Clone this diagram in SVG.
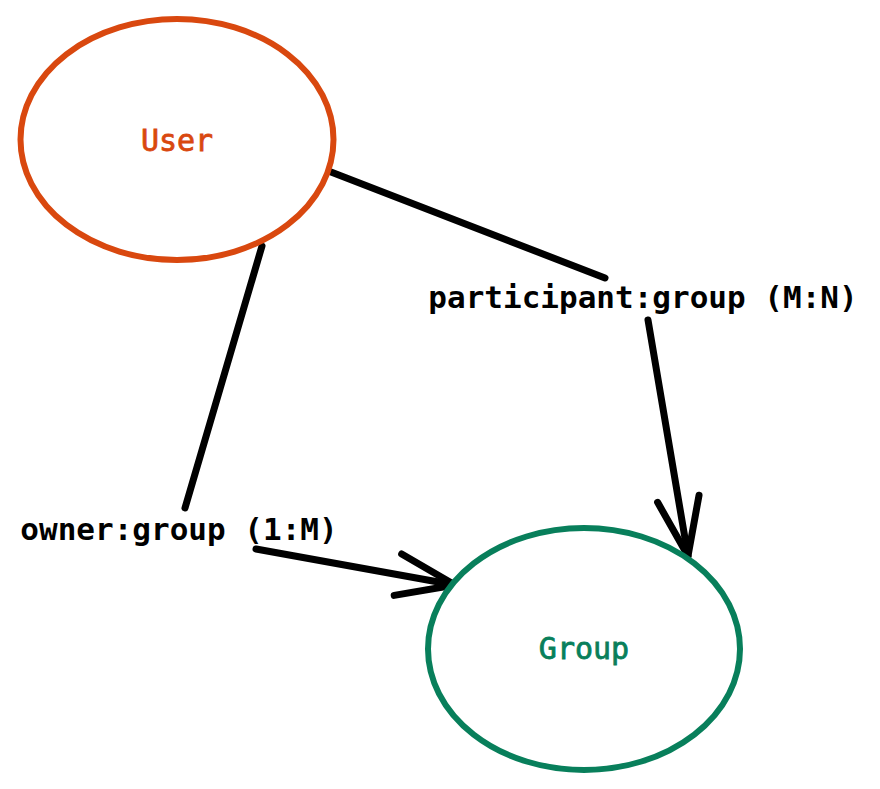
<svg xmlns="http://www.w3.org/2000/svg" width="880" height="789" viewBox="0 0 880 789">
  <style>
    .node-shape { fill: #ffffff; stroke-width: 6; }
    .user .node-shape { stroke: #d9480f; }
    .group .node-shape { stroke: #087f5b; }
    .node-label { font-family: "DejaVu Sans Mono", "Liberation Mono", monospace; font-size: 30px; text-anchor: middle; stroke-width: 0.8; }
    .user .node-label { fill: #d9480f; stroke: #d9480f; }
    .group .node-label { fill: #087f5b; stroke: #087f5b; }
    .edge { fill: none; stroke: #000000; stroke-width: 7; stroke-linecap: round; stroke-linejoin: round; }
    .edge-label { font-family: "DejaVu Sans Mono", "Liberation Mono", monospace; font-size: 31px; font-weight: bold; fill: #000000; text-anchor: middle; }
  </style>
  <defs>
    <marker id="arrow" markerUnits="userSpaceOnUse" orient="auto" refX="0" refY="0" markerWidth="80" markerHeight="60" overflow="visible">
      <path d="M -58,-21 L 0,0 L -58,21" fill="none" stroke="#000000" stroke-width="7" stroke-linecap="round" stroke-linejoin="round"/>
    </marker>
  </defs>
  <rect width="880" height="789" fill="#ffffff"/>
  <g id="connectors">
    <g id="edge-participant">
      <line class="edge" x1="331" y1="172" x2="605" y2="278"/>
      <line class="edge" x1="648" y1="320" x2="688" y2="556" marker-end="url(#arrow)"/>
      <text class="edge-label" x="643" y="308">participant:group (M:N)</text>
    </g>
    <g id="edge-owner">
      <line class="edge" x1="262" y1="246" x2="185" y2="508"/>
      <line class="edge" x1="256" y1="549" x2="455" y2="585" marker-end="url(#arrow)"/>
      <text class="edge-label" x="179" y="540">owner:group (1:M)</text>
    </g>
  </g>
  <g id="node-user" class="user">
    <ellipse class="node-shape" cx="177" cy="139.5" rx="156.5" ry="120.5"/>
    <text class="node-label" x="177" y="151">User</text>
  </g>
  <g id="node-group" class="group">
    <ellipse class="node-shape" cx="584" cy="649" rx="156" ry="121"/>
    <text class="node-label" x="584" y="659">Group</text>
  </g>
</svg>
